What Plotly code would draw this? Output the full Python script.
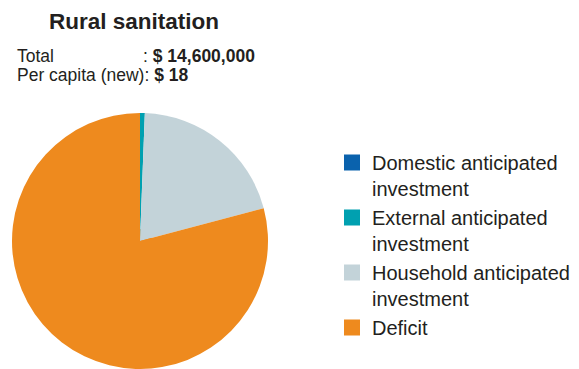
import plotly.graph_objects as go

# Funding breakdown for rural sanitation (US$)
categories = [
    "Domestic anticipated<br>investment",
    "External anticipated<br>investment",
    "Household anticipated<br>investment",
    "Deficit",
]
values = [0, 88000, 2960000, 11552000]
colors = ["#0a62ad", "#00a0b0", "#c3d3d9", "#ee8a1e"]

title_text = "Rural sanitation"
total_label = "Total"
total_value = "$ 14,600,000"
per_capita_label = "Per capita (new)"
per_capita_value = "$ 18"

W, H = 579, 369
FONT = "Liberation Sans, Arial, Helvetica, sans-serif"
SWATCH_EDGE = 4  # outline that enlarges the legend swatches

fig = go.Figure()

# Legend carrier: same data, outlined so the legend swatches come out larger;
# it sits tucked under the centre of the main pie.
fig.add_trace(
    go.Pie(
        labels=categories,
        values=values,
        marker=dict(colors=colors, line=dict(width=SWATCH_EDGE, color=colors)),
        sort=False,
        direction="clockwise",
        textinfo="none",
        hoverinfo="skip",
        domain=dict(x=[130 / W, 150 / W], y=[(H - 251) / H, (H - 231) / H]),
    )
)

# Main pie
fig.add_trace(
    go.Pie(
        labels=categories,
        values=values,
        marker=dict(colors=colors, line=dict(width=0)),
        sort=False,
        direction="clockwise",
        rotation=0,
        textinfo="none",
        hoverinfo="label+value+percent",
        showlegend=False,
        domain=dict(x=[11 / W, 269 / W], y=[0, (H - 113) / H]),
    )
)

annotations = [
    dict(text=f"<b>{title_text}</b>", x=134 / W, y=1 - 22 / H, xanchor="center",
         yanchor="middle", font=dict(size=22.5, color="#231f20")),
    dict(text=total_label, x=15 / W, y=1 - 56 / H, xanchor="left", yanchor="middle",
         font=dict(size=17.5, color="#231f20")),
    dict(text=f": <b>{total_value}</b>", x=141 / W, y=1 - 56 / H, xanchor="left",
         yanchor="middle", font=dict(size=17.5, color="#231f20")),
    dict(text=f"{per_capita_label}: <b>{per_capita_value}</b>", x=15 / W, y=1 - 75 / H,
         xanchor="left", yanchor="middle", font=dict(size=17.5, color="#231f20")),
]
for a in annotations:
    a.update(xref="paper", yref="paper", showarrow=False)

fig.update_layout(
    width=W,
    height=H,
    margin=dict(l=0, r=0, t=0, b=0),
    paper_bgcolor="white",
    plot_bgcolor="white",
    font=dict(family=FONT, color="#231f20"),
    annotations=annotations,
    showlegend=True,
    legend=dict(
        x=332 / W, y=1 - 143 / H, xanchor="left", yanchor="top",
        font=dict(size=20, color="#231f20"),
        traceorder="normal", valign="top",
        itemclick=False, itemdoubleclick=False,
    ),
)

fig.write_html("out.html")
